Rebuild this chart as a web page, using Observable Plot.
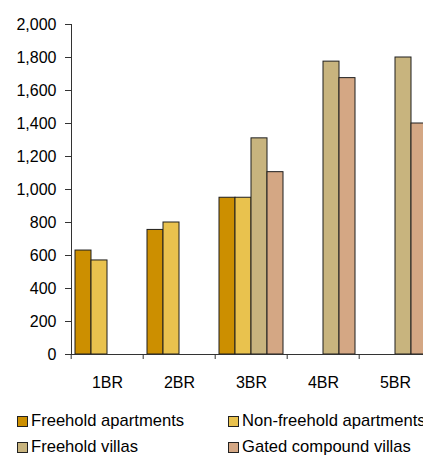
<!DOCTYPE html>
<html>
<head>
<meta charset="utf-8">
<script src="https://cdn.jsdelivr.net/npm/d3@7"></script>
<script src="https://cdn.jsdelivr.net/npm/@observablehq/plot@0.6"></script>
<style>
  html, body { margin: 0; padding: 0; background: #fff; }
  #wrap { width: 423px; height: 455px; overflow: hidden; font-family: "Liberation Sans", Arial, sans-serif; color: #000; }
  #wrap svg { display: block; }
  .legend { display: grid; grid-template-columns: 211px auto; margin-top: 13px; padding-left: 17px; white-space: nowrap; font-size: 16.6px; line-height: 26px; }
  .legend span.item { display: flex; align-items: center; }
  .legend span.sw { display: inline-block; width: 9px; height: 9px; border: 1px solid #222; margin-right: 3px; }
</style>
</head>
<body>
<div id="wrap"></div>
<script>
// Average size (sq ft) by bedroom count and property type
const categories = ["1BR", "2BR", "3BR", "4BR", "5BR"];
const series = ["Freehold apartments", "Non-freehold apartments", "Freehold villas", "Gated compound villas"];
const freeholdApartments    = [630, 755, 950, null, null];
const nonFreeholdApartments = [570, 800, 950, null, null];
const freeholdVillas        = [null, null, 1310, 1775, 1800];
const gatedCompoundVillas   = [null, null, 1105, 1675, 1400];
const yTicks = [0, 200, 400, 600, 800, 1000, 1200, 1400, 1600, 1800, 2000];
const colors = ["#CC8F00", "#E9C24E", "#C8B47E", "#D4A784"];

const valuesBySeries = [freeholdApartments, nonFreeholdApartments, freeholdVillas, gatedCompoundVillas];
const rows = [];
series.forEach((s, si) => {
  categories.forEach((c, ci) => {
    const v = valuesBySeries[si][ci];
    if (v != null) rows.push({category: c, series: s, value: v});
  });
});

// The last group runs past the right edge of the visible area
const width = 435, marginLeft = 69, marginRight = 3;
const halfBand = (width - marginLeft - marginRight) / categories.length / 2;

const chart = Plot.plot({
  width,
  height: 395,
  marginLeft,
  marginRight,
  marginTop: 24,
  marginBottom: 41,
  style: {fontFamily: "'Liberation Sans', Arial, sans-serif", fontSize: "16px", color: "#000", background: "#fff", maxWidth: "none"},
  facet: {marginTop: 0, marginBottom: 0, marginLeft: 0, marginRight: 0},
  fx: {domain: categories, padding: 0, label: null, axis: null},
  x: {domain: series, paddingInner: 0, paddingOuter: 0.25, axis: null},
  y: {domain: [0, 2000], label: null},
  color: {domain: series, range: colors},
  marks: [
    Plot.barY(rows, {fx: "category", x: "series", y: "value", fill: "series", stroke: "#1e1e1e", strokeWidth: 1}),
    Plot.ruleY([0], {stroke: "#333"}),
    Plot.frame({anchor: "left", facetAnchor: "left", stroke: "#333"}),
    Plot.axisY({ticks: yTicks, tickFormat: d3.format(","), tickSize: 6, tickPadding: 9, fontSize: 16, label: null, stroke: "#333"}),
    Plot.axisFx({anchor: "bottom", tickSize: 0, tickPadding: 22, fontSize: 16, label: null}),
    Plot.axisFx({anchor: "bottom", tickSize: 5, tickFormat: () => "", dx: -halfBand, label: null, stroke: "#333"})
  ]
});
chart.style.maxWidth = "none";
chart.style.width = width + "px";
chart.style.height = "395px";

const wrap = document.getElementById("wrap");
wrap.appendChild(chart);

const legend = document.createElement("div");
legend.className = "legend";
series.forEach((s, i) => {
  const item = document.createElement("span");
  item.className = "item";
  const sw = document.createElement("span");
  sw.className = "sw";
  sw.style.background = colors[i];
  item.appendChild(sw);
  item.appendChild(document.createTextNode(s));
  legend.appendChild(item);
});
wrap.appendChild(legend);
</script>
</body>
</html>
